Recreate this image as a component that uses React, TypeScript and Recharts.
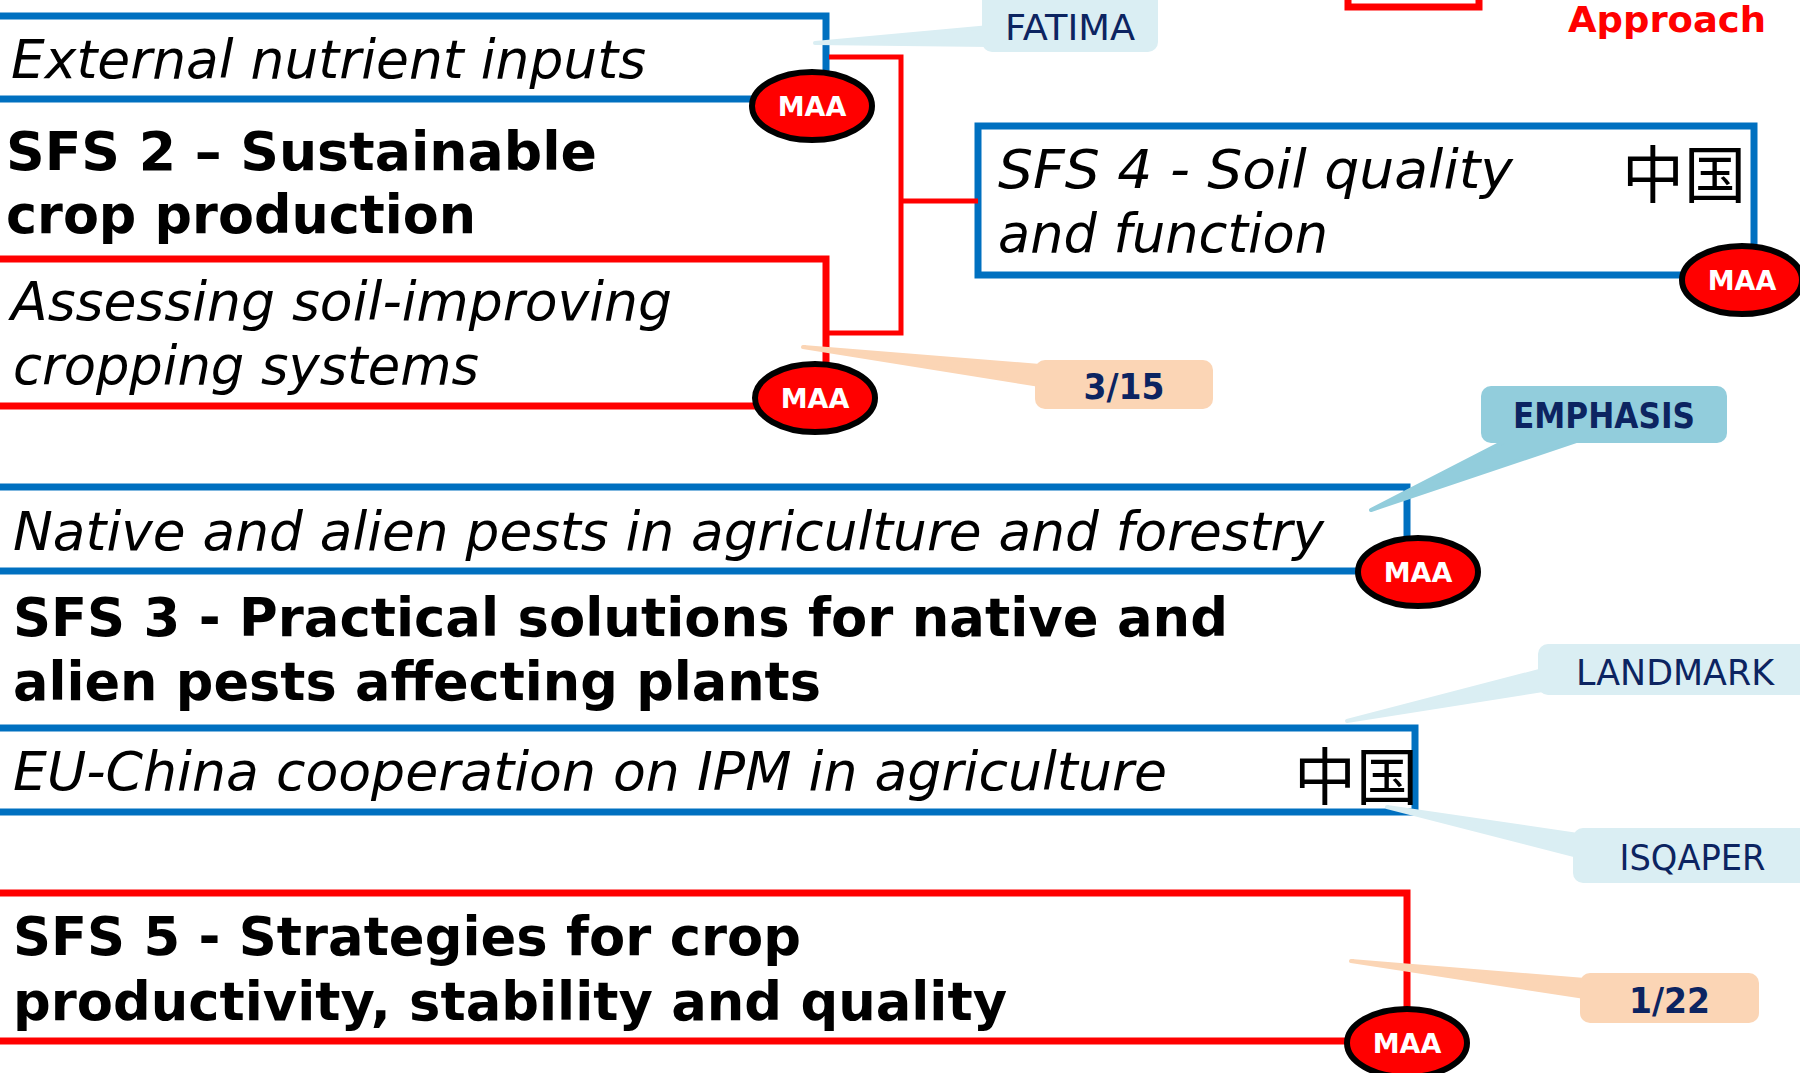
import { ScatterChart, Scatter, XAxis, YAxis } from "recharts";

const W = 1800;
const H = 1073;

// outlined boxes (stroke centre lines), left ends run off the page
const frames = [
  { tone: "blue", x1: -20, y1: 16, x2: 826, y2: 99 },
  { tone: "red", x1: -20, y1: 259, x2: 826, y2: 406 },
  { tone: "blue", x1: 978, y1: 126, x2: 1754, y2: 275 },
  { tone: "blue", x1: -20, y1: 487, x2: 1407, y2: 571 },
  { tone: "blue", x1: -20, y1: 728, x2: 1415, y2: 812 },
  { tone: "red", x1: -20, y1: 893, x2: 1407, y2: 1041 },
  { tone: "red", x1: 1348, y1: -40, x2: 1479, y2: 7 },
];

// red bracket joining SFS 2 topics to SFS 4
const links = [
  [{ x: 829, y: 57 }, { x: 901, y: 57 }, { x: 901, y: 333 }, { x: 826, y: 333 }],
  [{ x: 901, y: 201 }, { x: 978, y: 201 }],
];

// project / count callouts
const callouts = [
  { text: "FATIMA", fill: "pale", bold: false, x1: 982, y1: -12, x2: 1158, y2: 52, textY: 40, textW: 130, tip: { x: 815, y: 43 }, base: [{ x: 990, y: 27 }, { x: 990, y: 45 }] },
  { text: "3/15", fill: "peach", bold: true, x1: 1035, y1: 360, x2: 1213, y2: 409, textY: 399, textW: 81, tip: { x: 803, y: 347 }, base: [{ x: 1040, y: 366 }, { x: 1040, y: 385 }] },
  { text: "EMPHASIS", fill: "teal", bold: true, x1: 1481, y1: 386, x2: 1727, y2: 443, textY: 428, textW: 182, tip: { x: 1371, y: 510 }, base: [{ x: 1511, y: 438 }, { x: 1585, y: 438 }] },
  { text: "LANDMARK", fill: "pale", bold: false, x1: 1538, y1: 644, x2: 1812, y2: 695, textY: 685, textW: 198, tip: { x: 1347, y: 721 }, base: [{ x: 1543, y: 670 }, { x: 1543, y: 690 }] },
  { text: "ISQAPER", fill: "pale", bold: false, x1: 1573, y1: 828, x2: 1812, y2: 883, textY: 870, textW: 146, tip: { x: 1387, y: 807 }, base: [{ x: 1578, y: 835 }, { x: 1578, y: 856 }] },
  { text: "1/22", fill: "peach", bold: true, x1: 1580, y1: 973, x2: 1759, y2: 1023, textY: 1013, textW: 81, tip: { x: 1351, y: 961 }, base: [{ x: 1585, y: 980 }, { x: 1585, y: 997 }] },
];

// red "MAA" badges
const badges = [
  { x: 812, y: 106 },
  { x: 1742, y: 280 },
  { x: 815, y: 398 },
  { x: 1418, y: 572 },
  { x: 1407, y: 1043 },
];

const labels = [
  { text: "External nutrient inputs", kind: "italic", x: 11, y: 78, w: 635 },
  { text: "SFS 2 – Sustainable", kind: "bold", x: 6, y: 170, w: 591 },
  { text: "crop production", kind: "bold", x: 6, y: 233, w: 470 },
  { text: "Assessing soil-improving", kind: "italic", x: 11, y: 320, w: 661 },
  { text: "cropping systems", kind: "italic", x: 13, y: 384, w: 466 },
  { text: "SFS 4 - Soil quality", kind: "italic", x: 998, y: 188, w: 515 },
  { text: "and function", kind: "italic", x: 998, y: 252, w: 330 },
  { text: "中国", kind: "cjk", x: 1622, y: 198, w: 0 },
  { text: "Native and alien pests in agriculture and forestry", kind: "italic", x: 13, y: 550, w: 1311 },
  { text: "SFS 3 - Practical solutions for native and", kind: "bold", x: 13, y: 636, w: 1215 },
  { text: "alien pests affecting plants", kind: "bold", x: 13, y: 700, w: 808 },
  { text: "EU-China cooperation on IPM in agriculture", kind: "italic", x: 13, y: 790, w: 1154 },
  { text: "中国", kind: "cjk", x: 1294, y: 800, w: 0 },
  { text: "SFS 5 - Strategies for crop", kind: "bold", x: 13, y: 955, w: 788 },
  { text: "productivity, stability and quality", kind: "bold", x: 13, y: 1020, w: 994 },
  { text: "Approach", kind: "approach", x: 1568, y: 32, w: 198 },
];

const toneColor: Record<string, string> = { blue: "#0070C0", red: "#FF0000" };
const calloutFill: Record<string, string> = { pale: "#DAEEF3", teal: "#92CDDC", peach: "#FBD5B5" };
const navy = "#0C2461";

const labelStyle: Record<string, any> = {
  italic: { fontFamily: "DejaVu Sans", fontStyle: "italic", fontSize: 53, fill: "#000" },
  bold: { fontFamily: "DejaVu Sans", fontWeight: "bold", fontSize: 53, fill: "#000" },
  cjk: { fontFamily: "Noto Sans CJK SC", fontSize: 62, fill: "#000" },
  approach: { fontFamily: "DejaVu Sans", fontWeight: "bold", fontSize: 35, fill: "#FF0000" },
};

const Nothing = () => <g />;

const frameLine = (tone: string) => (p: any) => {
  const [a, b] = p.points;
  return (
    <rect
      x={Math.min(a.x, b.x)}
      y={Math.min(a.y, b.y)}
      width={Math.abs(b.x - a.x)}
      height={Math.abs(b.y - a.y)}
      fill="none"
      stroke={toneColor[tone]}
      strokeWidth={7}
    />
  );
};

const calloutBox = (fill: string) => (p: any) => {
  const [a, b] = p.points;
  return (
    <rect
      x={Math.min(a.x, b.x)}
      y={Math.min(a.y, b.y)}
      width={Math.abs(b.x - a.x)}
      height={Math.abs(b.y - a.y)}
      rx={10}
      fill={calloutFill[fill]}
    />
  );
};

const pointer = (fill: string) => (p: any) => (
  <polygon
    points={p.points.map((q: any) => `${q.x},${q.y}`).join(" ")}
    fill={calloutFill[fill]}
    stroke={calloutFill[fill]}
    strokeWidth={4}
    strokeLinejoin="round"
  />
);

const Badge = (p: any) => (
  <g>
    <ellipse cx={p.cx} cy={p.cy} rx={60} ry={34} fill="#FF0000" stroke="#000" strokeWidth={6} />
    <text x={p.cx} y={p.cy + 10} textAnchor="middle" fontFamily="DejaVu Sans" fontWeight="bold" fontSize={27} fill="#fff">
      MAA
    </text>
  </g>
);

const Label = (p: any) => {
  const d = p.payload;
  const extra = d.w ? { textLength: d.w, lengthAdjust: "spacingAndGlyphs" } : {};
  return (
    <text x={p.cx} y={p.cy} {...labelStyle[d.kind]} {...extra}>
      {d.text}
    </text>
  );
};

const CalloutLabel = (p: any) => {
  const d = p.payload;
  return (
    <text
      x={p.cx}
      y={p.cy}
      textAnchor="middle"
      fontFamily="DejaVu Sans"
      fontWeight={d.bold ? "bold" : "normal"}
      fontSize={36}
      fill={navy}
      textLength={d.textW}
      lengthAdjust="spacingAndGlyphs"
    >
      {d.text}
    </text>
  );
};

export default function App() {
  const calloutLabels = callouts.map((c) => ({ x: (c.x1 + c.x2) / 2, y: c.textY, text: c.text, bold: c.bold, textW: c.textW }));
  return (
    <div style={{ position: "absolute", left: 0, top: 0, width: W, height: H, background: "#fff" }}>
      <ScatterChart width={W} height={H} margin={{ top: 0, right: 0, bottom: 0, left: 0 }}>
        <XAxis type="number" dataKey="x" domain={[0, W]} allowDataOverflow hide />
        <YAxis type="number" dataKey="y" domain={[0, H]} allowDataOverflow reversed hide />

        {frames.map((f, i) => (
          <Scatter
            key={`frame-${i}`}
            data={[{ x: f.x1, y: f.y1 }, { x: f.x2, y: f.y2 }]}
            line={frameLine(f.tone)}
            shape={Nothing}
            isAnimationActive={false}
          />
        ))}

        {links.map((pts, i) => (
          <Scatter
            key={`link-${i}`}
            data={pts}
            line={{ stroke: "#FF0000", strokeWidth: 5 }}
            lineType="joint"
            shape={Nothing}
            isAnimationActive={false}
          />
        ))}

        {callouts.map((c, i) => (
          <Scatter
            key={`ptr-${i}`}
            data={[c.tip, ...c.base]}
            line={pointer(c.fill)}
            shape={Nothing}
            isAnimationActive={false}
          />
        ))}
        {callouts.map((c, i) => (
          <Scatter
            key={`box-${i}`}
            data={[{ x: c.x1, y: c.y1 }, { x: c.x2, y: c.y2 }]}
            line={calloutBox(c.fill)}
            shape={Nothing}
            isAnimationActive={false}
          />
        ))}

        <Scatter data={badges} shape={Badge} isAnimationActive={false} />
        <Scatter data={labels} shape={Label} isAnimationActive={false} />
        <Scatter data={calloutLabels} shape={CalloutLabel} isAnimationActive={false} />
      </ScatterChart>
    </div>
  );
}
